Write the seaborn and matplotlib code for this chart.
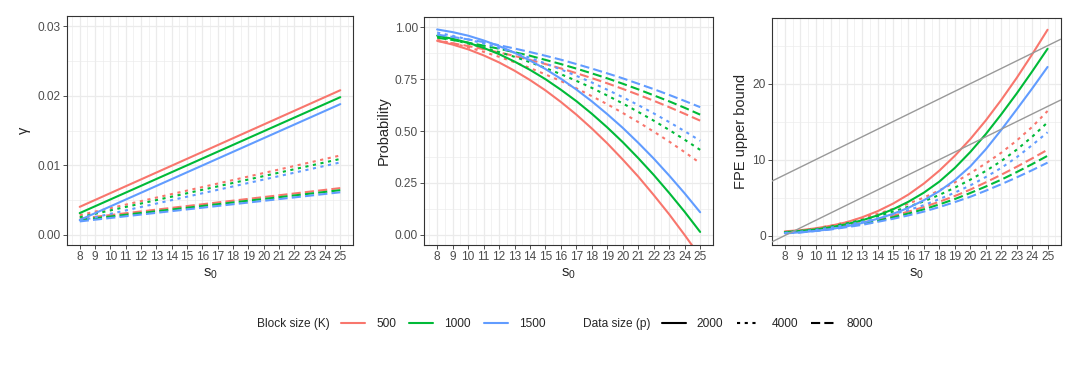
import numpy as np
import pandas as pd
import matplotlib
matplotlib.use("Agg")
import matplotlib.pyplot as plt
from matplotlib.lines import Line2D
from matplotlib.ticker import MultipleLocator
import seaborn as sns

# ---- data ----
s0 = list(range(8, 26))
s0_gamma = [8, 25]
block_sizes = ["500", "1000", "1500"]
data_sizes = ["2000", "4000", "8000"]
fpe_ref_intercepts = [0, -8]

# gamma (straight lines, endpoints)
gamma_500_2000 = [0.0040, 0.0208]
gamma_1000_2000 = [0.0031, 0.0198]
gamma_1500_2000 = [0.0021, 0.0188]
gamma_500_4000 = [0.0028, 0.0114]
gamma_1000_4000 = [0.0025, 0.0109]
gamma_1500_4000 = [0.0020, 0.0104]
gamma_500_8000 = [0.0023, 0.0067]
gamma_1000_8000 = [0.0021, 0.0064]
gamma_1500_8000 = [0.0019, 0.0061]

# probability
prob_500_2000 = [0.935, 0.917, 0.894, 0.865, 0.831, 0.791, 0.746, 0.696, 0.640,
                 0.579, 0.512, 0.440, 0.362, 0.280, 0.191, 0.098, -0.002, -0.106]
prob_1000_2000 = [0.960, 0.945, 0.926, 0.901, 0.871, 0.835, 0.795, 0.750, 0.699,
                  0.644, 0.583, 0.517, 0.446, 0.369, 0.288, 0.201, 0.110, 0.013]
prob_1500_2000 = [0.990, 0.977, 0.960, 0.937, 0.910, 0.878, 0.840, 0.799, 0.752,
                  0.700, 0.643, 0.581, 0.515, 0.443, 0.367, 0.285, 0.199, 0.108]
prob_500_4000 = [0.940, 0.923, 0.904, 0.882, 0.858, 0.832, 0.804, 0.773, 0.741,
                 0.706, 0.668, 0.629, 0.587, 0.543, 0.497, 0.449, 0.398, 0.345]
prob_1000_4000 = [0.955, 0.940, 0.922, 0.903, 0.881, 0.858, 0.832, 0.804, 0.774,
                  0.742, 0.708, 0.671, 0.633, 0.592, 0.550, 0.505, 0.458, 0.409]
prob_1500_4000 = [0.975, 0.959, 0.942, 0.922, 0.901, 0.878, 0.853, 0.826, 0.797,
                  0.766, 0.734, 0.699, 0.663, 0.625, 0.585, 0.543, 0.499, 0.453]
prob_500_8000 = [0.935, 0.923, 0.910, 0.895, 0.879, 0.862, 0.843, 0.823, 0.802,
                 0.779, 0.755, 0.730, 0.703, 0.675, 0.646, 0.615, 0.583, 0.550]
prob_1000_8000 = [0.950, 0.939, 0.926, 0.912, 0.897, 0.880, 0.863, 0.843, 0.823,
                  0.801, 0.778, 0.754, 0.728, 0.701, 0.672, 0.643, 0.612, 0.579]
prob_1500_8000 = [0.965, 0.954, 0.942, 0.929, 0.914, 0.898, 0.881, 0.863, 0.844,
                  0.823, 0.801, 0.778, 0.754, 0.728, 0.702, 0.674, 0.645, 0.615]

# FPE upper bound
fpe_500_2000 = [0.55, 0.7, 0.95, 1.3, 1.75, 2.4, 3.2, 4.2, 5.4,
                6.85, 8.55, 10.5, 12.7, 15.15, 17.85, 20.75, 23.85, 27.1]
fpe_1000_2000 = [0.45, 0.6, 0.8, 1.1, 1.5, 2.0, 2.65, 3.45, 4.45,
                 5.65, 7.1, 8.9, 11.0, 13.35, 15.95, 18.7, 21.6, 24.6]
fpe_1500_2000 = [0.3, 0.42, 0.6, 0.85, 1.2, 1.65, 2.2, 2.85, 3.65,
                 4.65, 5.85, 7.3, 9.1, 11.35, 13.9, 16.6, 19.35, 22.2]
fpe_500_4000 = [0.45, 0.65, 0.95, 1.3, 1.75, 2.3, 2.85, 3.5, 4.2,
                5.0, 5.95, 7.0, 8.2, 9.5, 10.9, 12.5, 14.3, 16.4]
fpe_1000_4000 = [0.4, 0.6, 0.85, 1.2, 1.6, 2.05, 2.55, 3.15, 3.8,
                 4.5, 5.35, 6.3, 7.35, 8.5, 9.8, 11.3, 13.0, 14.9]
fpe_1500_4000 = [0.35, 0.5, 0.75, 1.05, 1.4, 1.8, 2.25, 2.8, 3.35,
                 4.0, 4.8, 5.65, 6.6, 7.7, 8.9, 10.3, 11.9, 13.6]
fpe_500_8000 = [0.35, 0.5, 0.7, 0.95, 1.3, 1.7, 2.1, 2.6, 3.15,
                3.75, 4.45, 5.2, 6.05, 7.0, 8.0, 9.05, 10.15, 11.3]
fpe_1000_8000 = [0.3, 0.45, 0.65, 0.9, 1.2, 1.55, 1.95, 2.4, 2.9,
                 3.45, 4.1, 4.8, 5.6, 6.45, 7.35, 8.35, 9.4, 10.5]
fpe_1500_8000 = [0.28, 0.4, 0.6, 0.8, 1.1, 1.4, 1.8, 2.2, 2.65,
                 3.15, 3.75, 4.4, 5.1, 5.9, 6.75, 7.65, 8.6, 9.6]


def long_frame(x, table):
    rows = []
    for (k, p), vals in table.items():
        for s, v in zip(x, vals):
            rows.append({"s0": s, "value": v, "K": k, "p": p})
    return pd.DataFrame(rows)


gamma_df = long_frame(s0_gamma, {
    ("500", "2000"): gamma_500_2000, ("1000", "2000"): gamma_1000_2000, ("1500", "2000"): gamma_1500_2000,
    ("500", "4000"): gamma_500_4000, ("1000", "4000"): gamma_1000_4000, ("1500", "4000"): gamma_1500_4000,
    ("500", "8000"): gamma_500_8000, ("1000", "8000"): gamma_1000_8000, ("1500", "8000"): gamma_1500_8000,
})
prob_df = long_frame(s0, {
    ("500", "2000"): prob_500_2000, ("1000", "2000"): prob_1000_2000, ("1500", "2000"): prob_1500_2000,
    ("500", "4000"): prob_500_4000, ("1000", "4000"): prob_1000_4000, ("1500", "4000"): prob_1500_4000,
    ("500", "8000"): prob_500_8000, ("1000", "8000"): prob_1000_8000, ("1500", "8000"): prob_1500_8000,
})
fpe_df = long_frame(s0, {
    ("500", "2000"): fpe_500_2000, ("1000", "2000"): fpe_1000_2000, ("1500", "2000"): fpe_1500_2000,
    ("500", "4000"): fpe_500_4000, ("1000", "4000"): fpe_1000_4000, ("1500", "4000"): fpe_1500_4000,
    ("500", "8000"): fpe_500_8000, ("1000", "8000"): fpe_1000_8000, ("1500", "8000"): fpe_1500_8000,
})

# ---- style (ggplot theme_bw look) ----
sns.set_theme(style="white")
plt.rcParams.update({
    "font.family": ["Liberation Sans", "DejaVu Sans"],
    "mathtext.fontset": "custom",
    "mathtext.rm": "Liberation Sans",
    "mathtext.it": "Liberation Sans",
    "mathtext.default": "regular",
})

colors = dict(zip(block_sizes, ["#F8766D", "#00BA38", "#619CFF"]))
dash_map = dict(zip(data_sizes, ["", (1.5, 2.2), (4.4, 2.0)]))
LW = 1.5

W, H = 1080, 367
fig = plt.figure(figsize=(W / 100, H / 100), dpi=100)

# axes boxes in pixels: left, top, right, bottom
boxes = [(66.7, 16, 353.3, 245), (424, 17, 713.3, 245), (771.7, 18, 1060.7, 245)]
axes = []
for l, t, r, b in boxes:
    axes.append(fig.add_axes([l / W, 1 - b / H, (r - l) / W, (b - t) / H]))

panels = [
    (gamma_df, r"$\gamma$", (-0.0015, 0.0315), [0, 0.01, 0.02, 0.03], 0.005, ["0.00", "0.01", "0.02", "0.03"]),
    (prob_df, "Probability", (-0.05, 1.05), [0, 0.25, 0.5, 0.75, 1.0], 0.125, ["0.00", "0.25", "0.50", "0.75", "1.00"]),
    (fpe_df, "FPE upper bound", (-1.25, 28.65), [0, 10, 20], 5, ["0", "10", "20"]),
]

for ax, (df, ylab, ylim, yticks, yminor, ylabels) in zip(axes, panels):
    sns.lineplot(data=df, x="s0", y="value", hue="K", style="p",
                 hue_order=block_sizes, style_order=data_sizes,
                 palette=colors, dashes=dash_map, linewidth=LW,
                 estimator=None, legend=False, ax=ax, zorder=2)
    ax.set_xlim(7.15, 25.85)
    ax.set_ylim(*ylim)
    ax.set_xticks(s0)
    ax.set_xticklabels([str(s) for s in s0])
    ax.xaxis.set_minor_locator(MultipleLocator(0.5))
    ax.set_yticks(yticks)
    ax.set_yticklabels(ylabels)
    ax.yaxis.set_minor_locator(MultipleLocator(yminor))
    ax.grid(which="major", color="#EBEBEB", linewidth=0.9, zorder=0)
    ax.grid(which="minor", color="#EBEBEB", linewidth=0.45, zorder=0)
    ax.set_axisbelow(True)
    for sp in ax.spines.values():
        sp.set_color("#333333")
        sp.set_linewidth(0.8)
    ax.tick_params(which="major", direction="out", length=2.8, width=0.6,
                   color="#333333", labelcolor="#4D4D4D", labelsize=8.6, pad=1.5,
                   bottom=True, left=True)
    ax.tick_params(which="minor", length=0)
    ax.set_xlabel(r"s$_0$", fontsize=10.5, labelpad=2.5)
    ax.set_ylabel(ylab, fontsize=10.5, labelpad=3)

# reference lines in the FPE panel
for icpt in fpe_ref_intercepts:
    axes[2].axline((0, icpt), slope=1, color="#999999", linewidth=1.0, zorder=3)

# ---- legend at the bottom ----
ly = 1 - 324 / H
fig.text(256.7 / W, ly, "Block size (K)", ha="left", va="center", fontsize=8.6)
fig.text(582.7 / W, ly, "Data size (p)", ha="left", va="center", fontsize=8.6)

k_handles = [Line2D([], [], color=colors[k], linewidth=LW) for k in block_sizes]
p_handles = []
for p in data_sizes:
    h = Line2D([], [], color="black", linewidth=LW)
    if dash_map[p]:
        h.set_dashes(dash_map[p])
    p_handles.append(h)

leg_kw = dict(loc="center left", ncol=3, frameon=False, fontsize=8.6,
              handlelength=2.0, handletextpad=0.95, columnspacing=1.1,
              borderpad=0, borderaxespad=0)
fig.legend(k_handles, block_sizes, bbox_to_anchor=(341 / W, ly), **leg_kw)
fig.legend(p_handles, data_sizes, bbox_to_anchor=(661.7 / W, ly), **leg_kw)

fig.savefig("out.png", dpi=100, facecolor="white")
